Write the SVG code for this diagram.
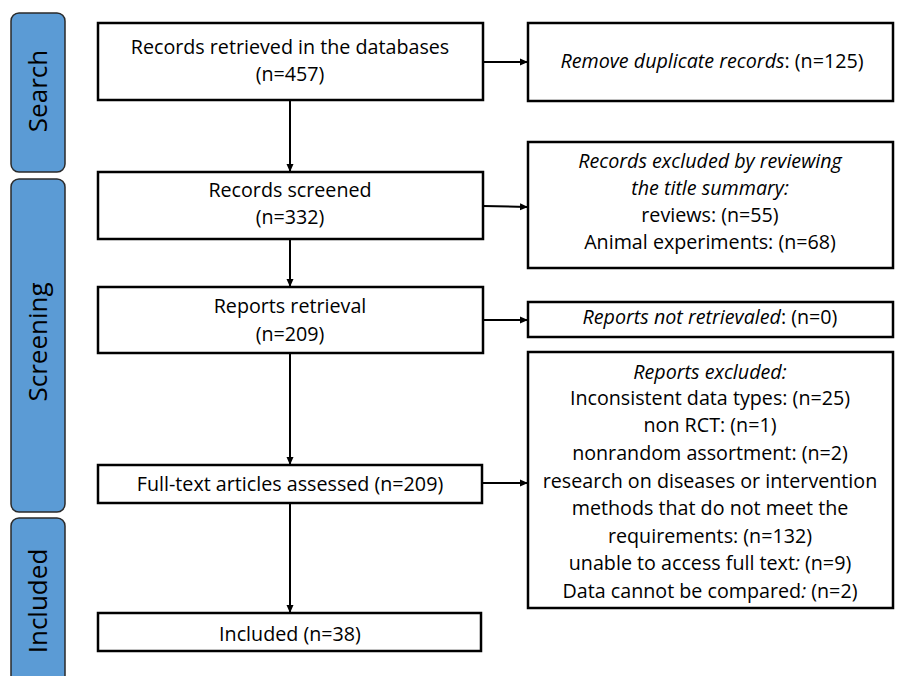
<svg xmlns="http://www.w3.org/2000/svg" width="901" height="676" viewBox="0 0 901 676">
<style>
.box{fill:#fff;stroke:#000;stroke-width:2.5}
.pill{fill:#5B9BD5;stroke:#2a2a2a;stroke-width:1.5}
.t{font-family:"Open Sans","Liberation Sans",sans-serif;font-size:19.7px;fill:#000;text-anchor:middle}
.i{font-style:italic}
.side{font-family:"Open Sans","Liberation Sans",sans-serif;font-size:26px;fill:#000;text-anchor:middle}
.c{stroke:#000;stroke-width:2;fill:none;marker-end:url(#ah)}
</style>
<defs>
<marker id="ah" markerWidth="8" markerHeight="8" refX="7" refY="4" orient="auto" markerUnits="userSpaceOnUse">
<path d="M0,0.5 L8,4 L0,7.5 Z" fill="#000"/>
</marker>
</defs>
<rect width="901" height="676" fill="#fff"/>
<g id="stage-search"><rect class="pill" x="11" y="13" width="54" height="159" rx="8"/><text class="side" transform="translate(47,91) rotate(-90)">Search</text></g>
<g id="stage-screening"><rect class="pill" x="11" y="179" width="54" height="333" rx="8"/><text class="side" transform="translate(47,342) rotate(-90)">Screening</text></g>
<g id="stage-included"><rect class="pill" x="11" y="518" width="54" height="180" rx="8"/><text class="side" transform="translate(47,601) rotate(-90)">Included</text></g>

<g id="connectors">
<line class="c" x1="290" y1="100" x2="290" y2="171"/>
<line class="c" x1="290" y1="239" x2="290" y2="286"/>
<line class="c" x1="290" y1="353" x2="290" y2="464"/>
<line class="c" x1="290" y1="503" x2="290" y2="612"/>
<line class="c" x1="483" y1="62" x2="527" y2="62"/>
<line class="c" x1="483" y1="206" x2="527" y2="207"/>
<line class="c" x1="483" y1="320" x2="527" y2="320"/>
<line class="c" x1="482" y1="483" x2="527" y2="483"/>
</g>

<g id="n1"><rect class="box" x="98" y="23" width="385" height="77"/><text class="t" x="290" y="54">Records retrieved in the databases</text><text class="t" x="290" y="81">(n=457)</text></g>
<g id="n2"><rect class="box" x="98" y="172" width="385" height="67"/><text class="t" x="290" y="197">Records screened</text><text class="t" x="290" y="224">(n=332)</text></g>
<g id="n3"><rect class="box" x="98" y="287" width="385" height="66"/><text class="t" x="290" y="313">Reports retrieval</text><text class="t" x="290" y="341">(n=209)</text></g>
<g id="n4"><rect class="box" x="98" y="465" width="384" height="38"/><text class="t" x="290" y="491">Full-text articles assessed (n=209)</text></g>
<g id="n5"><rect class="box" x="98" y="613" width="383" height="38"/><text class="t" x="290" y="641">Included (n=38)</text></g>

<g id="r1"><rect class="box" x="528" y="23" width="365" height="78"/><text class="t" x="712" y="68"><tspan class="i">Remove duplicate records</tspan>: (n=125)</text></g>
<g id="r2"><rect class="box" x="528" y="142" width="365" height="126"/>
<text class="t i" x="710" y="168">Records excluded by reviewing</text>
<text class="t i" x="710" y="195">the title summary:</text>
<text class="t" x="710" y="222">reviews: (n=55)</text>
<text class="t" x="710" y="249">Animal experiments: (n=68)</text></g>
<g id="r3"><rect class="box" x="528" y="302" width="365" height="35"/><text class="t" x="710" y="324"><tspan class="i">Reports not retrievaled</tspan>: (n=0)</text></g>
<g id="r4"><rect class="box" x="528" y="352" width="365" height="256"/>
<text class="t i" x="710" y="379">Reports excluded:</text>
<text class="t" x="710" y="405">Inconsistent data types: (n=25)</text>
<text class="t" x="710" y="432">non RCT: (n=1)</text>
<text class="t" x="710" y="460">nonrandom assortment: (n=2)</text>
<text class="t" x="710" y="488">research on diseases or intervention</text>
<text class="t" x="710" y="515">methods that do not meet the</text>
<text class="t" x="710" y="543">requirements: (n=132)</text>
<text class="t" x="710" y="570">unable to access full text<tspan class="i">:</tspan> (n=9)</text>
<text class="t" x="710" y="598">Data cannot be compared<tspan class="i">:</tspan> (n=2)</text></g>
</svg>
